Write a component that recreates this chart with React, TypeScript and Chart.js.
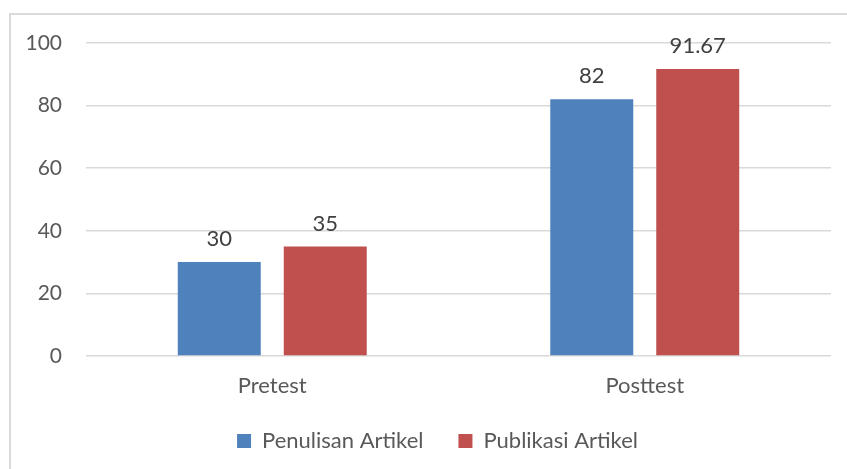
import React, { useEffect, useRef } from "react";
import { Chart, registerables } from "chart.js";

Chart.register(...registerables);

const categories = ["Pretest", "Posttest"];
const penulisan = [30, 82];
const publikasi = [35, 91.67];
const seriesNames = ["Penulisan Artikel", "Publikasi Artikel"];
const yTicks = [0, 20, 40, 60, 80, 100];

const FONT = "Lato, 'Open Sans', sans-serif";

const valueLabels = {
  id: "valueLabels",
  afterDatasetsDraw(chart: any) {
    const ctx = chart.ctx;
    ctx.save();
    ctx.font = `22px ${FONT}`;
    ctx.fillStyle = "#404040";
    ctx.textAlign = "center";
    ctx.textBaseline = "bottom";
    chart.data.datasets.forEach((ds: any, i: number) => {
      const meta = chart.getDatasetMeta(i);
      meta.data.forEach((bar: any, j: number) => {
        ctx.fillText(String(ds.data[j]), bar.x, bar.y - 12);
      });
    });
    ctx.restore();
  },
};

// Offset the legend horizontally so it is centred like the original
const legendShift = {
  id: "legendShift",
  afterLayout(chart: any) {
    const lg = chart.legend;
    if (lg) {
      lg.left += 22;
      lg.right += 22;
    }
  },
};

export default function App() {
  const ref = useRef<HTMLCanvasElement>(null);
  useEffect(() => {
    if (!ref.current) return;
    const chart = new Chart(ref.current, {
      type: "bar",
      data: {
        labels: categories,
        datasets: [
          { label: seriesNames[0], data: penulisan, backgroundColor: "#4F81BD" },
          { label: seriesNames[1], data: publikasi, backgroundColor: "#C0504D" },
        ],
      },
      options: {
        animation: false,
        responsive: false,
        maintainAspectRatio: false,
        devicePixelRatio: 1,
        layout: { padding: { top: 43, right: 16, bottom: 7, left: 0 } },
        datasets: { bar: { categoryPercentage: 0.569, barPercentage: 0.783 } },
        plugins: {
          tooltip: { enabled: false },
          legend: {
            position: "bottom",
            labels: {
              boxWidth: 14,
              boxHeight: 14,
              padding: 35,
              color: "#595959",
              font: { family: FONT, size: 22 },
            },
          },
        },
        scales: {
          x: {
            grid: { display: false },
            border: { display: false },
            ticks: { color: "#595959", font: { family: FONT, size: 22 }, padding: 9 },
            afterFit: (s: any) => { s.height = 39; },
          },
          y: {
            min: 0,
            max: 100,
            afterBuildTicks: (s: any) => { s.ticks = yTicks.map((v) => ({ value: v })); },
            grid: { color: "#d9d9d9", lineWidth: 1.5, drawTicks: false },
            border: { display: false },
            ticks: { color: "#595959", font: { family: FONT, size: 21 }, padding: 24 },
            afterFit: (s: any) => { s.width = 86; },
          },
        },
      },
      plugins: [valueLabels, legendShift],
    });
    return () => chart.destroy();
  }, []);
  return (
    <div style={{ position: "fixed", left: 0, top: 0, width: 847, height: 469, overflow: "hidden", background: "#fff" }}>
      <canvas ref={ref} width={847} height={469} style={{ position: "absolute", left: 0, top: 0, width: 847, height: 469 }} />
      <div style={{ position: "absolute", left: 9, top: 13, width: 900, height: 500, border: "2px solid #d9d9d9", pointerEvents: "none" }} />
    </div>
  );
}
